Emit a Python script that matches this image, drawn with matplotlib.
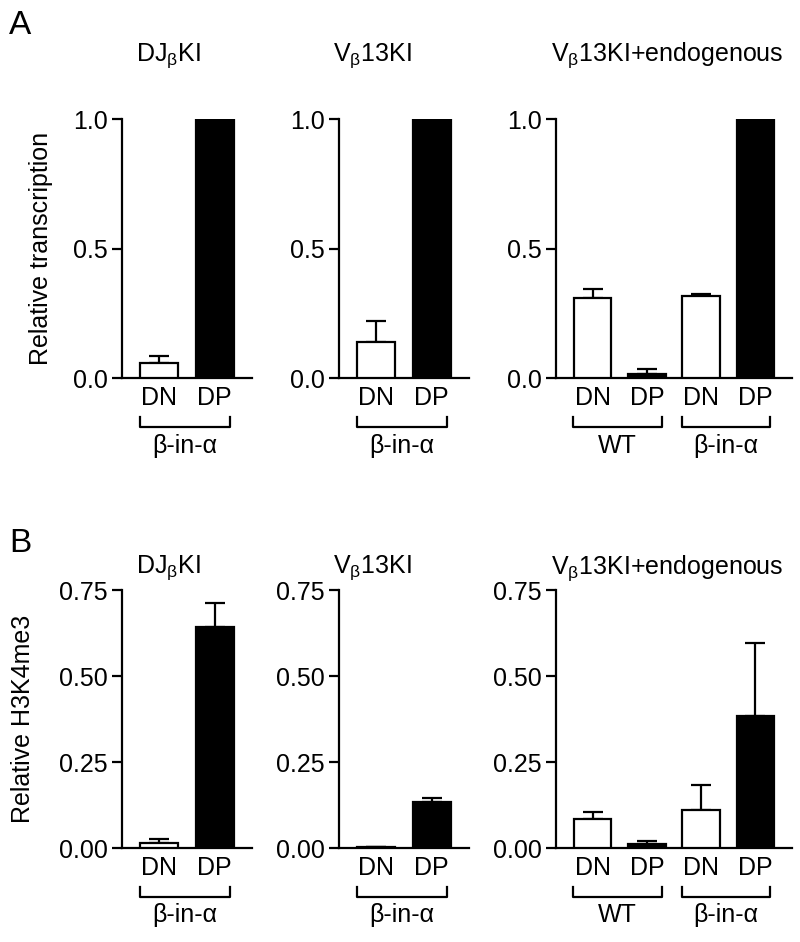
import matplotlib
matplotlib.use('Agg')

import numpy as np
import matplotlib.pyplot as plt
import matplotlib.transforms as mtransforms

# ==========================================
# DATA
# ==========================================

titles = [
    "DJ$_{\\mathrm{β}}$KI",
    "V$_{\\mathrm{β}}$13KI",
    "V$_{\\mathrm{β}}$13KI+endogenous",
]

cells_short = ["DN", "DP"]
cells_long = ["DN", "DP", "DN", "DP"]

groups_short = ["β-in-α"]
groups_long = ["WT", "β-in-α"]

# panel A: relative transcription
a1_vals = [0.058, 1.0]
a1_err = [0.028, 0.0]
a2_vals = [0.14, 1.0]
a2_err = [0.08, 0.0]
a3_vals = [0.307, 0.015, 0.315, 1.0]
a3_err = [0.035, 0.018, 0.008, 0.0]

# panel B: relative H3K4me3
b1_vals = [0.014, 0.642]
b1_err = [0.012, 0.07]
b2_vals = [0.002, 0.134]
b2_err = [0.0, 0.011]
b3_vals = [0.084, 0.012, 0.110, 0.384]
b3_err = [0.021, 0.009, 0.072, 0.212]

fills_short = ["white", "black"]
fills_long = ["white", "black", "white", "black"]

# ==========================================
# STYLE
# ==========================================

plt.rcParams['font.family'] = ['Liberation Sans', 'DejaVu Sans']
plt.rcParams['mathtext.fontset'] = 'custom'
plt.rcParams['mathtext.rm'] = 'Liberation Sans'
plt.rcParams['mathtext.it'] = 'Liberation Sans:italic'
plt.rcParams['font.size'] = 18

LW = 1.6
PAD = 0.68

fig = plt.figure(figsize=(8, 9.42), dpi=100)

# axes rectangles in pixels: x0 of y axis, width
px_cols = [(122, 130), (339, 130), (556, 236)]
title_x = [168, 372, 667]
rows = {
    "A": (119, 378),
    "B": (590, 848),
}


def make_ax(col, row):
    x0, w = px_cols[col]
    top, bot = rows[row]
    return fig.add_axes([
        x0 / 800,
        (942 - bot) / 942,
        w / 800,
        (bot - top) / 942
    ])


def draw_panel(ax, col, vals, errs, fills, cells, groups, ymax, yticks, fmt, title_y):
    x = np.arange(len(vals))

    ax.bar(
        x,
        vals,
        width=0.69,
        color=fills,
        edgecolor="black",
        linewidth=LW,
        zorder=3
    )

    ax.errorbar(
        x,
        vals,
        yerr=[np.zeros(len(errs)), errs],
        fmt="none",
        ecolor="black",
        elinewidth=LW,
        capsize=7,
        capthick=LW,
        zorder=2
    )

    ax.set_xlim(-PAD, len(vals) - 1 + PAD)
    ax.set_ylim(0, ymax)

    ax.set_yticks(yticks)
    ax.set_yticklabels([fmt.format(t) for t in yticks])

    ax.set_xticks(x)
    ax.set_xticklabels(cells)

    ax.tick_params(axis="x", length=0, pad=6)
    ax.tick_params(axis="y", length=7, width=LW, pad=3)

    for side in ["top", "right"]:
        ax.spines[side].set_visible(False)
    for side in ["left", "bottom"]:
        ax.spines[side].set_linewidth(LW)

    # brackets under the tick labels
    trans = mtransforms.blended_transform_factory(ax.transData, ax.transAxes)
    for i, g in enumerate(groups):
        x_left = 2 * i - 0.36
        x_right = 2 * i + 1 + 0.28
        yb = -0.19
        ax.plot(
            [x_left, x_left, x_right, x_right],
            [yb + 0.038, yb, yb, yb + 0.038],
            color="black",
            linewidth=LW,
            transform=trans,
            clip_on=False
        )
        ax.text(
            (x_left + x_right) / 2,
            yb - 0.025,
            g,
            ha="center",
            va="top",
            transform=trans
        )

    # title, placed in figure x and axes y
    ttrans = mtransforms.blended_transform_factory(fig.transFigure, ax.transAxes)
    ax.text(
        title_x[col] / 800,
        title_y,
        titles[col],
        ha="center",
        va="center",
        transform=ttrans
    )


# ==========================================
# PANEL A
# ==========================================

ya = [0.0, 0.5, 1.0]
ax = make_ax(0, "A")
draw_panel(ax, 0, a1_vals, a1_err, fills_short, cells_short, groups_short,
           1.0, ya, "{:.1f}", 1.245)
ax.set_ylabel("Relative transcription")
ax.yaxis.set_label_coords(-0.53, 0.5)

ax = make_ax(1, "A")
draw_panel(ax, 1, a2_vals, a2_err, fills_short, cells_short, groups_short,
           1.0, ya, "{:.1f}", 1.245)

ax = make_ax(2, "A")
draw_panel(ax, 2, a3_vals, a3_err, fills_long, cells_long, groups_long,
           1.0, ya, "{:.1f}", 1.245)

# ==========================================
# PANEL B
# ==========================================

yb_ticks = [0.0, 0.25, 0.5, 0.75]
ax = make_ax(0, "B")
draw_panel(ax, 0, b1_vals, b1_err, fills_short, cells_short, groups_short,
           0.75, yb_ticks, "{:.2f}", 1.085)
ax.set_ylabel("Relative H3K4me3")
ax.yaxis.set_label_coords(-0.67, 0.5)

ax = make_ax(1, "B")
draw_panel(ax, 1, b2_vals, b2_err, fills_short, cells_short, groups_short,
           0.75, yb_ticks, "{:.2f}", 1.085)

ax = make_ax(2, "B")
draw_panel(ax, 2, b3_vals, b3_err, fills_long, cells_long, groups_long,
           0.75, yb_ticks, "{:.2f}", 1.085)

# panel letters
fig.text(9 / 800, 1 - 25 / 942, "A", fontsize=24, va="center")
fig.text(9 / 800, 1 - 543 / 942, "B", fontsize=24, va="center")

fig.savefig("out.png", dpi=100)
